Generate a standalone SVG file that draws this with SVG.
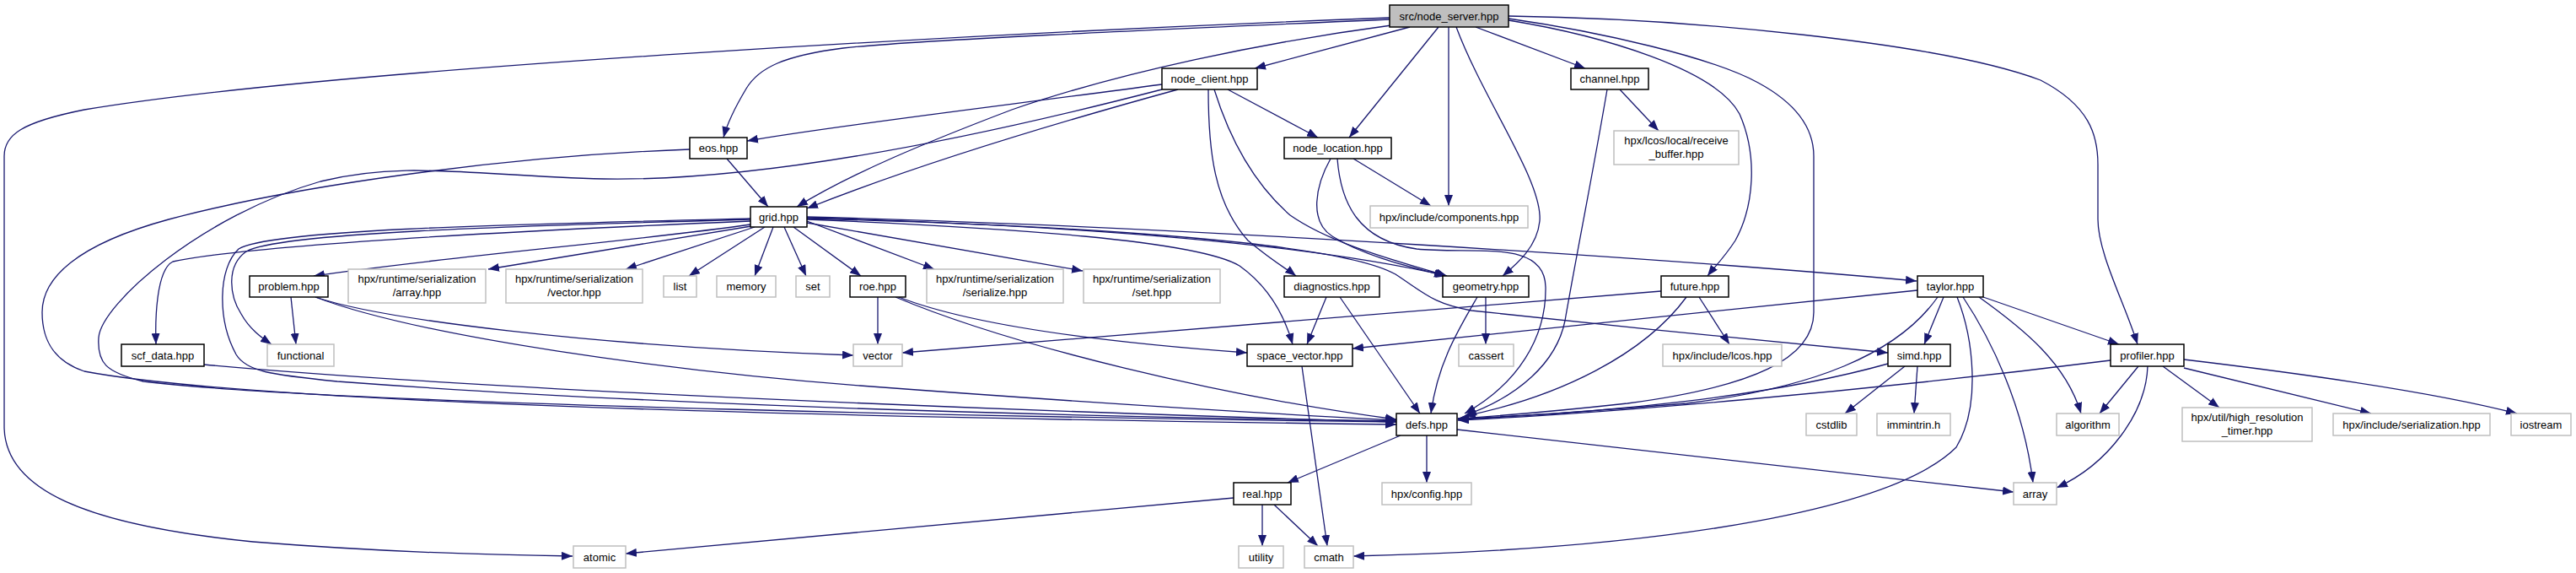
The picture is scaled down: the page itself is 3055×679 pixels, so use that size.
<svg xmlns="http://www.w3.org/2000/svg" width="3055" height="679" viewBox="0 0 3055 679">
<style>
.e{fill:none;stroke:#191970;stroke-width:1.3;marker-end:url(#a)}
.n rect{fill:#fff;stroke:#000;stroke-width:1.5}
.x rect{fill:#fff;stroke:#bfbfbf;stroke-width:1.5}
.r rect{fill:#bfbfbf;stroke:#000;stroke-width:1.5}
text{font-family:"Liberation Sans",Arial,Helvetica,sans-serif;font-size:13px;text-anchor:middle;fill:#000}
</style>
<defs>
<marker id="a" markerUnits="userSpaceOnUse" markerWidth="14" markerHeight="10" refX="13" refY="5" orient="auto">
<path d="M0,0 L13,5 L0,10 z" fill="#191970"/>
</marker>
</defs>
<rect width="3055" height="679" fill="#fff"/>
<g id="edges">
<path class="e" d="M1648,21 C1200,38 400,80 100,130 C25,145 5,160 5,185 L5,505 C5,580 100,622 300,642 C450,654 600,658 679,659"/>
<path class="e" d="M1648,23 C1350,36 1080,48 1000,57 C930,66 900,80 885,105 C870,130 862,148 858,163"/>
<path class="e" d="M1650,30 C1500,50 1330,85 1200,130 C1100,168 1010,205 945,245"/>
<path class="e" d="M1672,32 L1488,81"/>
<path class="e" d="M1706,32 L1600,163"/>
<path class="e" d="M1718,32 L1718,244"/>
<path class="e" d="M1727,32 C1760,120 1830,215 1826,262 C1823,292 1800,312 1782,327"/>
<path class="e" d="M1750,32 L1880,81"/>
<path class="e" d="M1789,19 C2000,22 2300,50 2420,95 C2478,125 2488,160 2488,195 L2488,260 C2488,300 2520,360 2535,408"/>
<path class="e" d="M1789,22 C1900,38 2030,68 2085,98 C2135,125 2151,155 2151,185 L2151,370 C2151,425 2080,458 1930,478 C1820,490 1760,494 1729,496"/>
<path class="e" d="M1789,24 C1900,42 2035,82 2063,135 C2085,185 2080,245 2058,285 C2045,305 2032,318 2025,327"/>
<path class="e" d="M1378,100 C1200,124 980,150 886,167"/>
<path class="e" d="M1378,106 C1150,165 900,215 716,212 C560,208 480,190 380,215 C240,255 120,360 117,400 C115,430 125,441 170,452 C400,480 1300,496 1656,500"/>
<path class="e" d="M1397,106 C1200,160 1050,210 957,247"/>
<path class="e" d="M1433,106 C1433,180 1440,240 1480,285 C1510,310 1528,320 1537,327"/>
<path class="e" d="M1440,106 C1460,170 1490,220 1530,255 C1580,290 1660,310 1716,327"/>
<path class="e" d="M1456,106 L1563,163"/>
<path class="e" d="M862,188 L911,245"/>
<path class="e" d="M818,177 C600,185 350,220 200,260 C90,290 50,330 50,370 C50,410 70,430 100,440 C300,478 1000,495 1656,503"/>
<path class="e" d="M1605,188 L1697,244"/>
<path class="e" d="M1578,188 C1560,220 1552,262 1580,280 C1620,305 1680,318 1714,327"/>
<path class="e" d="M1586,188 C1590,240 1610,285 1680,295 C1745,302 1832,282 1833,340 C1834,400 1800,455 1737,490"/>
<path class="e" d="M1921,106 L1967,155"/>
<path class="e" d="M1906,106 C1890,200 1870,300 1856,380 C1846,430 1800,470 1738,492"/>
<path class="e" d="M890,266 C760,285 520,305 372,327"/>
<path class="e" d="M891,268 L579,319"/>
<path class="e" d="M895,269 L742,319"/>
<path class="e" d="M907,269 L817,327"/>
<path class="e" d="M917,269 L895,327"/>
<path class="e" d="M930,269 L956,327"/>
<path class="e" d="M941,269 L1021,327"/>
<path class="e" d="M957,262 L1108,319"/>
<path class="e" d="M957,264 L1284,321"/>
<path class="e" d="M957,258 C1200,265 1520,282 1716,327"/>
<path class="e" d="M957,257 C1400,268 2000,308 2273,333"/>
<path class="e" d="M957,259 C1300,268 1590,288 1655,325 C1690,348 1700,360 1745,368 C1900,385 2100,405 2239,418"/>
<path class="e" d="M957,260 C1200,270 1420,285 1470,315 C1508,342 1525,380 1533,408"/>
<path class="e" d="M890,262 C600,274 300,290 205,310 C185,320 184,380 185,408"/>
<path class="e" d="M890,260 C600,268 330,276 292,298 C268,315 272,350 286,372 C296,390 310,400 322,408"/>
<path class="e" d="M890,259 C600,266 320,272 283,295 C258,318 258,380 280,420 C292,440 320,444 400,452 C800,482 1300,494 1656,499"/>
<path class="e" d="M345,352 L351,408"/>
<path class="e" d="M374,352 C450,378 700,410 1012,421"/>
<path class="e" d="M374,352 C500,400 800,440 1020,457 C1300,478 1500,490 1656,498"/>
<path class="e" d="M1041,352 L1041,408"/>
<path class="e" d="M1066,352 C1150,385 1300,405 1479,418"/>
<path class="e" d="M1062,352 C1200,410 1450,470 1656,497"/>
<path class="e" d="M242,432 C600,465 1300,490 1656,500"/>
<path class="e" d="M1573,352 L1550,408"/>
<path class="e" d="M1589,352 L1684,490"/>
<path class="e" d="M1762,352 L1762,408"/>
<path class="e" d="M1752,352 C1730,390 1705,430 1697,490"/>
<path class="e" d="M1970,345 L1070,418"/>
<path class="e" d="M2015,352 L2051,408"/>
<path class="e" d="M2000,352 C1950,420 1850,470 1737,493"/>
<path class="e" d="M2274,344 L1604,413"/>
<path class="e" d="M2305,352 L2282,408"/>
<path class="e" d="M2298,352 C2250,420 2150,460 2000,478 C1850,490 1780,495 1729,497"/>
<path class="e" d="M2321,352 C2340,400 2350,480 2320,530 C2250,600 2000,650 1605,659"/>
<path class="e" d="M2328,352 C2360,400 2400,480 2411,572"/>
<path class="e" d="M2347,352 C2400,390 2450,430 2468,490"/>
<path class="e" d="M2352,352 L2513,408"/>
<path class="e" d="M2239,431 C2100,470 1900,490 1729,496"/>
<path class="e" d="M2259,434 L2188,490"/>
<path class="e" d="M2274,434 L2270,490"/>
<path class="e" d="M2503,427 C2200,465 1900,490 1729,498"/>
<path class="e" d="M2536,434 L2490,490"/>
<path class="e" d="M2547,434 C2545,490 2500,550 2439,578"/>
<path class="e" d="M2565,434 L2632,483"/>
<path class="e" d="M2590,436 L2812,490"/>
<path class="e" d="M2590,426 C2750,445 2900,468 2985,490"/>
<path class="e" d="M1661,516 L1527,572"/>
<path class="e" d="M1692,516 L1692,572"/>
<path class="e" d="M1728,509 L2388,583"/>
<path class="e" d="M1463,590 L742,656"/>
<path class="e" d="M1497,598 L1497,647"/>
<path class="e" d="M1511,598 L1563,647"/>
<path class="e" d="M1544,434 L1574,647"/>
</g>
<g id="node_server" class="r"><rect x="1648" y="6" width="141" height="26"/><text x="1718.5" y="23.5">src/node_server.hpp</text></g>
<g id="node_client" class="n"><rect x="1378" y="81" width="113" height="25"/><text x="1434.5" y="98">node_client.hpp</text></g>
<g id="channel" class="n"><rect x="1863" y="81" width="92" height="25"/><text x="1909" y="98">channel.hpp</text></g>
<g id="eos" class="n"><rect x="818" y="163" width="68" height="25"/><text x="852" y="180">eos.hpp</text></g>
<g id="node_location" class="n"><rect x="1523" y="163" width="127" height="25"/><text x="1586.5" y="180">node_location.hpp</text></g>
<g id="receive_buffer" class="x"><rect x="1914" y="155" width="148" height="40"/><text x="1988" y="171">hpx/lcos/local/receive</text><text x="1988" y="187">_buffer.hpp</text></g>
<g id="grid" class="n"><rect x="890" y="245" width="67" height="24"/><text x="923.5" y="261.5">grid.hpp</text></g>
<g id="components" class="x"><rect x="1625" y="244" width="187" height="26"/><text x="1718.5" y="261.5">hpx/include/components.hpp</text></g>
<g id="problem" class="n"><rect x="296" y="327" width="93" height="25"/><text x="342.5" y="344">problem.hpp</text></g>
<g id="ser_array" class="x"><rect x="413" y="319" width="163" height="40"/><text x="494.5" y="334.5">hpx/runtime/serialization</text><text x="494.5" y="350.5">/array.hpp</text></g>
<g id="ser_vector" class="x"><rect x="600" y="319" width="162" height="40"/><text x="681" y="334.5">hpx/runtime/serialization</text><text x="681" y="350.5">/vector.hpp</text></g>
<g id="list" class="x"><rect x="787" y="327" width="39" height="25"/><text x="806.5" y="344">list</text></g>
<g id="memory" class="x"><rect x="850" y="327" width="70" height="25"/><text x="885" y="344">memory</text></g>
<g id="set" class="x"><rect x="944" y="327" width="40" height="25"/><text x="964" y="344">set</text></g>
<g id="roe" class="n"><rect x="1008" y="327" width="66" height="25"/><text x="1041" y="344">roe.hpp</text></g>
<g id="ser_serialize" class="x"><rect x="1099" y="319" width="162" height="40"/><text x="1180" y="334.5">hpx/runtime/serialization</text><text x="1180" y="350.5">/serialize.hpp</text></g>
<g id="ser_set" class="x"><rect x="1285" y="319" width="162" height="40"/><text x="1366" y="334.5">hpx/runtime/serialization</text><text x="1366" y="350.5">/set.hpp</text></g>
<g id="diagnostics" class="n"><rect x="1523" y="327" width="113" height="25"/><text x="1579.5" y="344">diagnostics.hpp</text></g>
<g id="geometry" class="n"><rect x="1711" y="327" width="102" height="25"/><text x="1762" y="344">geometry.hpp</text></g>
<g id="future" class="n"><rect x="1970" y="327" width="80" height="25"/><text x="2010" y="344">future.hpp</text></g>
<g id="taylor" class="n"><rect x="2274" y="327" width="78" height="25"/><text x="2313" y="344">taylor.hpp</text></g>
<g id="scf_data" class="n"><rect x="144" y="408" width="98" height="26"/><text x="193" y="425.5">scf_data.hpp</text></g>
<g id="functional" class="x"><rect x="317" y="408" width="79" height="26"/><text x="356.5" y="425.5">functional</text></g>
<g id="vector" class="x"><rect x="1012" y="408" width="58" height="26"/><text x="1041" y="425.5">vector</text></g>
<g id="space_vector" class="n"><rect x="1479" y="408" width="125" height="26"/><text x="1541.5" y="425.5">space_vector.hpp</text></g>
<g id="cassert" class="x"><rect x="1730" y="408" width="65" height="26"/><text x="1762.5" y="425.5">cassert</text></g>
<g id="lcos" class="x"><rect x="1972" y="408" width="141" height="26"/><text x="2042.5" y="425.5">hpx/include/lcos.hpp</text></g>
<g id="simd" class="n"><rect x="2239" y="408" width="74" height="26"/><text x="2276" y="425.5">simd.hpp</text></g>
<g id="profiler" class="n"><rect x="2503" y="408" width="87" height="26"/><text x="2546.5" y="425.5">profiler.hpp</text></g>
<g id="defs" class="n"><rect x="1656" y="490" width="72" height="26"/><text x="1692" y="507.5">defs.hpp</text></g>
<g id="cstdlib" class="x"><rect x="2142" y="490" width="60" height="26"/><text x="2172" y="507.5">cstdlib</text></g>
<g id="immintrin" class="x"><rect x="2226" y="490" width="87" height="26"/><text x="2269.5" y="507.5">immintrin.h</text></g>
<g id="algorithm" class="x"><rect x="2439" y="490" width="74" height="26"/><text x="2476" y="507.5">algorithm</text></g>
<g id="timer" class="x"><rect x="2588" y="483" width="154" height="40"/><text x="2665" y="499">hpx/util/high_resolution</text><text x="2665" y="515">_timer.hpp</text></g>
<g id="serialization" class="x"><rect x="2767" y="490" width="186" height="26"/><text x="2860" y="507.5">hpx/include/serialization.hpp</text></g>
<g id="iostream" class="x"><rect x="2978" y="490" width="71" height="26"/><text x="3013.5" y="507.5">iostream</text></g>
<g id="real" class="n"><rect x="1463" y="572" width="68" height="26"/><text x="1497" y="589.5">real.hpp</text></g>
<g id="config" class="x"><rect x="1639" y="572" width="106" height="26"/><text x="1692" y="589.5">hpx/config.hpp</text></g>
<g id="array" class="x"><rect x="2388" y="572" width="51" height="26"/><text x="2413.5" y="589.5">array</text></g>
<g id="atomic" class="x"><rect x="680" y="647" width="62" height="26"/><text x="711" y="664.5">atomic</text></g>
<g id="utility" class="x"><rect x="1469" y="647" width="53" height="26"/><text x="1495.5" y="664.5">utility</text></g>
<g id="cmath" class="x"><rect x="1547" y="647" width="58" height="26"/><text x="1576" y="664.5">cmath</text></g>
</svg>
